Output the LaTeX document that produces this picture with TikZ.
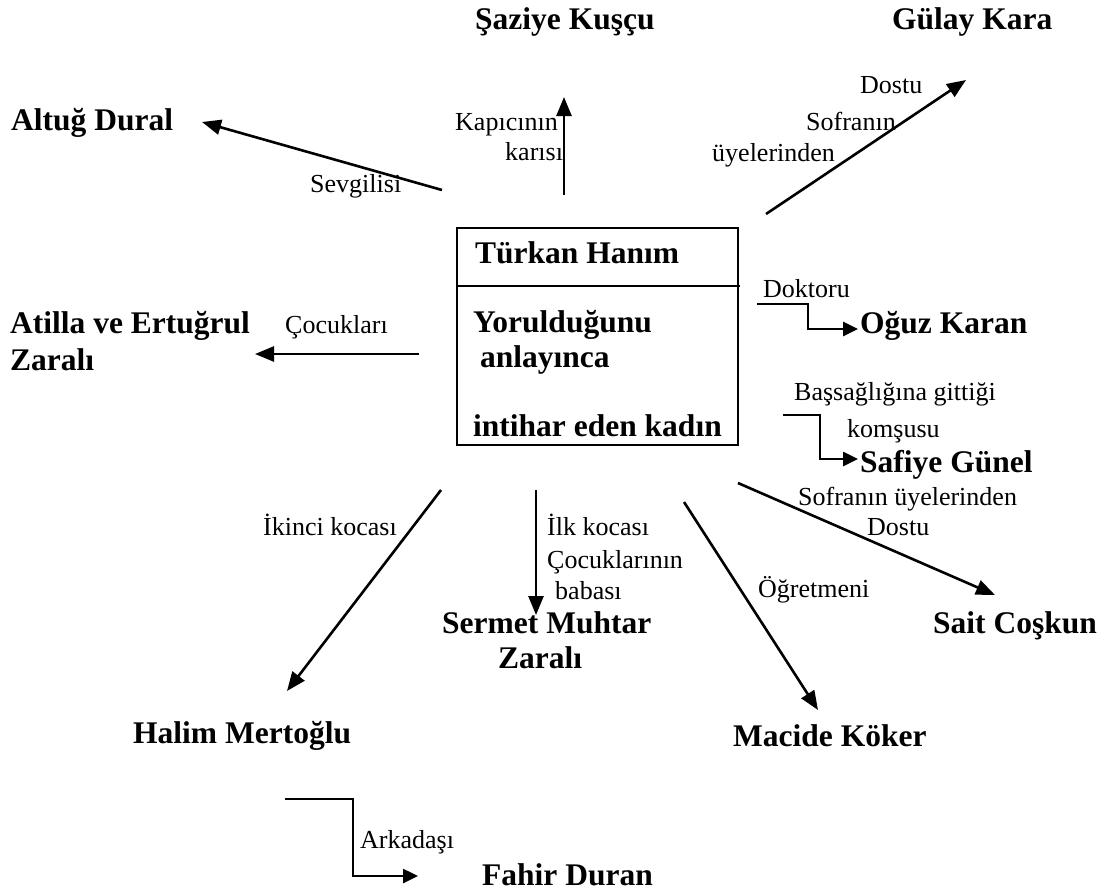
\documentclass[tikz,border=0pt]{standalone}
\usepackage{fontspec}
\setmainfont{Liberation Serif}
\usetikzlibrary{arrows.meta}

\begin{document}
\begin{tikzpicture}[x=1pt, y=-1pt,
  person/.style={anchor=base west, inner sep=0pt,
    font=\fontsize{31.5}{36}\selectfont\bfseries},
  rel/.style={anchor=base west, inner sep=0pt,
    font=\fontsize{26}{30}\selectfont},
  link/.style={line width=2.6pt, -{Triangle[length=19pt,width=15pt]}},
  elbow/.style={line width=2.6pt, -{Triangle[length=15pt,width=14pt]}},
  frame/.style={line width=1.8pt}]

\useasboundingbox (0,0) rectangle (1110,895);

% central box
\draw[frame] (457,228) rectangle (738,445);
\draw[frame] (457,286) -- (740,286);
\node[person] (turkan) at (475,263) {Türkan Hanım};
\node[person] (yor)    at (473,332) {Yorulduğunu};
\node[person] (anl)    at (480,367) {anlayınca};
\node[person] (intihar) at (473,436) {intihar eden kadın};

% people
\node[person] (saziye) at (475,29)  {Şaziye Kuşçu};
\node[person] (gulay)  at (892,29)  {Gülay Kara};
\node[person] (altug)  at (11,130)  {Altuğ Dural};
\node[person] (atilla) at (10,333)  {Atilla ve Ertuğrul};
\node[person] (atilla2) at (10,370) {Zaralı};
\node[person] (oguz)   at (860,333) {Oğuz Karan};
\node[person] (safiye) at (860,472) {Safiye Günel};
\node[person] (sait)   at (933,633) {Sait Coşkun};
\node[person] (sermet) at (442,633) {Sermet Muhtar};
\node[person] (sermet2) at (498,668) {Zaralı};
\node[person] (halim)  at (133,743) {Halim Mertoğlu};
\node[person] (macide) at (733,746) {Macide Köker};
\node[person] (fahir)  at (482,885) {Fahir Duran};

% relation labels
\node[rel] (lsev)  at (310,192) {Sevgilisi};
\node[rel] (lkap1) at (455,130) {Kapıcının};
\node[rel] (lkap2) at (505,160) {karısı};
\node[rel] (lgul1) at (860,93)  {Dostu};
\node[rel] (lgul2) at (806,130) {Sofranın};
\node[rel] (lgul3) at (712,161) {üyelerinden};
\node[rel] (lcoc)  at (285,333) {Çocukları};
\node[rel] (ldok)  at (763,297) {Doktoru};
\node[rel] (lbas1) at (794,400) {Başsağlığına gittiği};
\node[rel] (lbas2) at (847,437) {komşusu};
\node[rel] (lsai1) at (798,505) {Sofranın üyelerinden};
\node[rel] (lsai2) at (867,535) {Dostu};
\node[rel] (logr)  at (758,597) {Öğretmeni};
\node[rel] (liki)  at (263,535) {İkinci kocası};
\node[rel] (lilk1) at (547,535) {İlk kocası};
\node[rel] (lilk2) at (547,568) {Çocuklarının};
\node[rel] (lilk3) at (555,599) {babası};
\node[rel] (lark)  at (360,848) {Arkadaşı};

% connector end points
\coordinate (sevA) at (442,190);  \coordinate (sevB) at (202,122);
\coordinate (kapA) at (564,195);  \coordinate (kapB) at (564,97);
\coordinate (gulA) at (766,214);  \coordinate (gulB) at (966,80);
\coordinate (cocA) at (419,354);  \coordinate (cocB) at (255,354);
\coordinate (saiA) at (738,483);  \coordinate (saiB) at (995,595);
\coordinate (macA) at (684,502);  \coordinate (macB) at (818,710);
\coordinate (serA) at (536,490);  \coordinate (serB) at (536,615);
\coordinate (halA) at (441,490);  \coordinate (halB) at (287,691);
\coordinate (dokA) at (757,304);  \coordinate (dokK) at (808,304);
\coordinate (dokB) at (858,329);
\coordinate (basA) at (783,415);  \coordinate (basK) at (820,415);
\coordinate (basB) at (858,459);
\coordinate (arkA) at (285,799);  \coordinate (arkK) at (353,799);
\coordinate (arkB) at (418,876);

% straight relations
\draw[link] (sevA) -- (sevB);
\draw[link] (kapA) -- (kapB);
\draw[link] (gulA) -- (gulB);
\draw[link] (cocA) -- (cocB);
\draw[link] (saiA) -- (saiB);
\draw[link] (macA) -- (macB);
\draw[link] (serA) -- (serB);
\draw[link] (halA) -- (halB);

% stepped relations
\draw[elbow] (dokA) -- (dokK) |- (dokB);
\draw[elbow] (basA) -- (basK) |- (basB);
\draw[elbow] (arkA) -- (arkK) |- (arkB);

\end{tikzpicture}
\end{document}
